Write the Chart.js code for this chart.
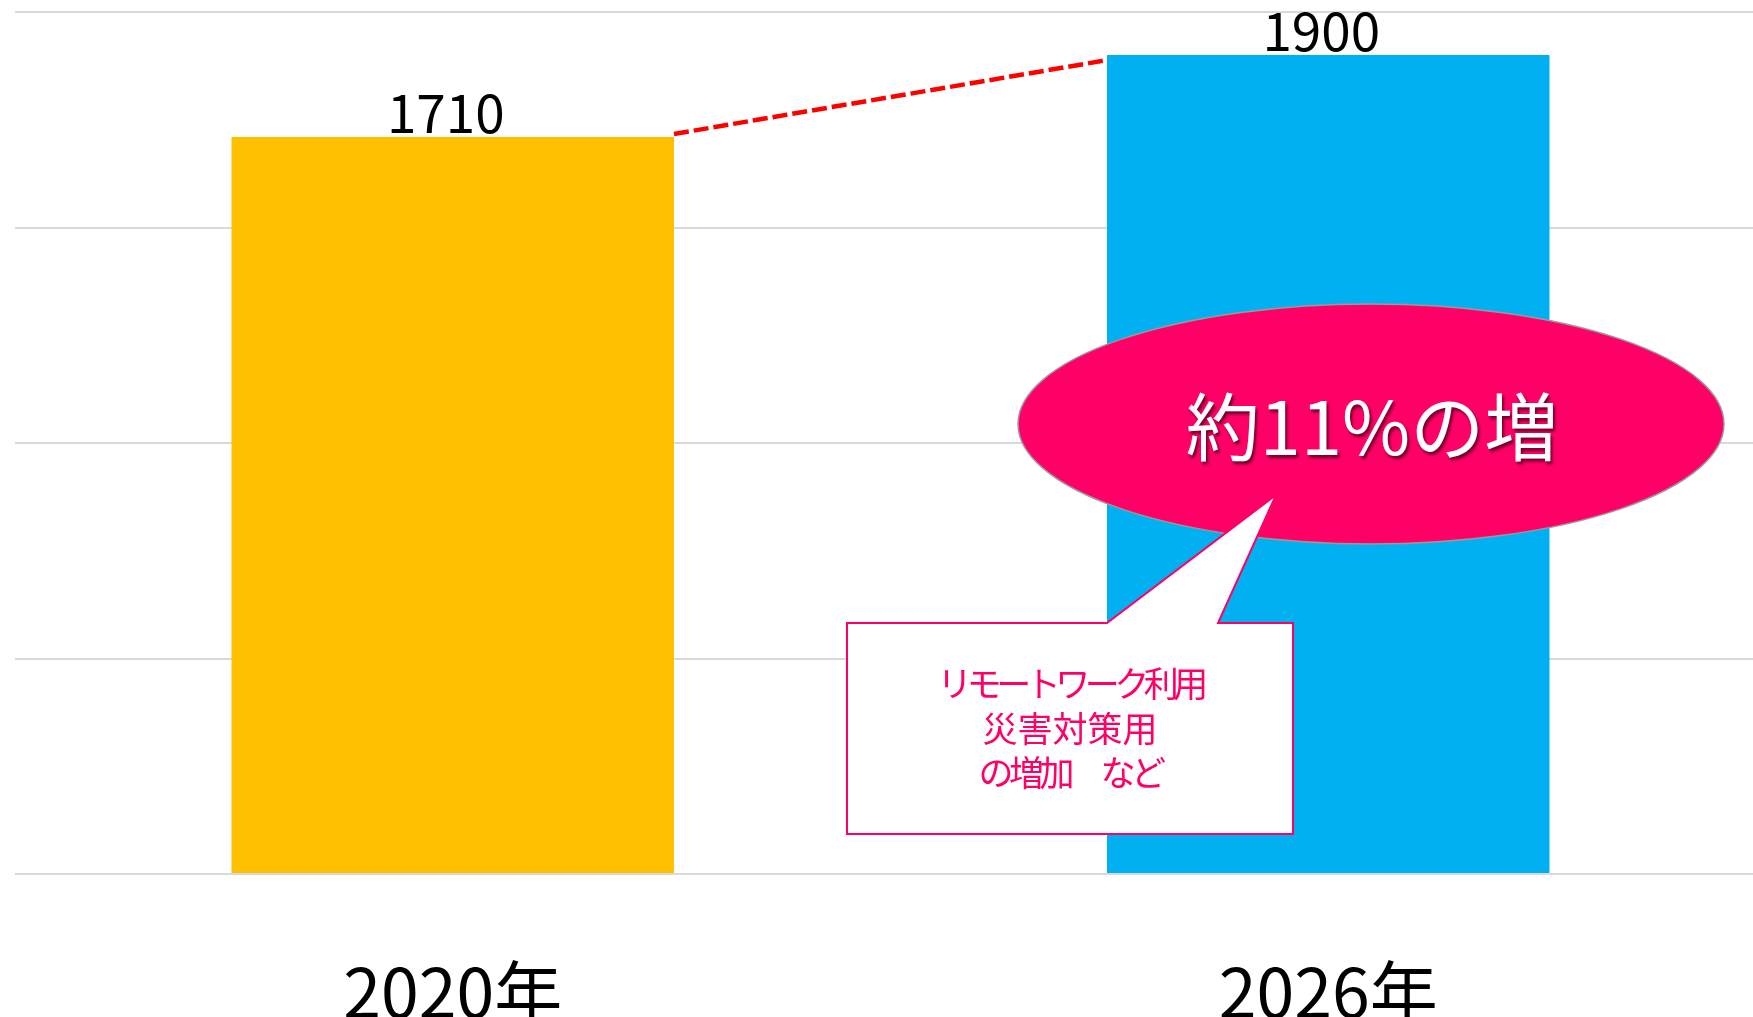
<!DOCTYPE html>
<html>
<head>
<meta charset="utf-8">
<script src="https://cdn.jsdelivr.net/npm/chart.js@4/dist/chart.umd.min.js"></script>
<style>
  html, body { margin: 0; padding: 0; overflow: hidden; background: #fff; }
  #wrap { position: absolute; left: 0; top: 0; width: 1768px; height: 1017px; }
</style>
</head>
<body>
<div id="wrap"><canvas id="chart"></canvas></div>
<script>
const categories = ['2020年', '2026年']
const values = [1710, 1900]
const barColors = ['#FFC000', '#00B0F0']
const yMax = 2000
const yStep = 500

const growthText = '約11%の増'
const reasonLines = ['リモートワーク利用', '災害対策用', 'の増加　など']

const FONT = '"Noto Sans CJK JP", "Noto Sans", sans-serif'
const PINK = '#FF0066'

// value labels + dashed connector between bar tops
const barExtras = {
  id: 'barExtras',
  afterDatasetsDraw (chart) {
    const ctx = chart.ctx
    const bars = chart.getDatasetMeta(0).data
    const a = bars[0]
    const b = bars[1]
    ctx.save()
    ctx.strokeStyle = '#FF0000'
    ctx.lineWidth = 4.5
    ctx.setLineDash([15, 5])
    ctx.beginPath()
    ctx.moveTo(a.x + a.width / 2, a.y - 3)
    ctx.lineTo(b.x - b.width / 2, b.y + 5)
    ctx.stroke()
    ctx.setLineDash([])

    ctx.fillStyle = '#000'
    ctx.font = '53px ' + FONT
    ctx.textAlign = 'center'
    ctx.textBaseline = 'alphabetic'
    bars.forEach((bar, i) => {
      ctx.fillText(String(values[i]), bar.x - 7, bar.y - 4)
    })
    ctx.restore()
  }
}

// ellipse + rectangular callout
const callouts = {
  id: 'callouts',
  afterDraw (chart) {
    const ctx = chart.ctx
    ctx.save()
    // ellipse
    ctx.beginPath()
    ctx.ellipse(1371, 424, 353, 120, 0, 0, Math.PI * 2)
    ctx.fillStyle = PINK
    ctx.fill()
    ctx.lineWidth = 1.5
    ctx.strokeStyle = '#9a9a9a'
    ctx.stroke()

    ctx.font = '74px ' + FONT
    ctx.textAlign = 'center'
    ctx.textBaseline = 'middle'
    ctx.shadowColor = 'rgba(70, 0, 25, 0.75)'
    ctx.shadowOffsetX = 2
    ctx.shadowOffsetY = 3
    ctx.shadowBlur = 3
    ctx.fillStyle = '#fff'
    ctx.fillText(growthText, 1372, 427)
    ctx.shadowColor = 'transparent'

    // rectangle callout with tail
    ctx.beginPath()
    ctx.moveTo(847, 623)
    ctx.lineTo(1107, 623)
    ctx.lineTo(1276, 495)
    ctx.lineTo(1218, 623)
    ctx.lineTo(1293, 623)
    ctx.lineTo(1293, 834)
    ctx.lineTo(847, 834)
    ctx.closePath()
    ctx.fillStyle = '#fff'
    ctx.fill()
    ctx.lineWidth = 2
    ctx.strokeStyle = PINK
    ctx.stroke()

    ctx.fillStyle = PINK
    ctx.font = '35px ' + FONT
    const spacing = ['-5.5px', '0px', '-4.5px']
    reasonLines.forEach((line, i) => {
      ctx.letterSpacing = spacing[i]
      ctx.fillText(line, 1070, 684 + i * 44.5)
    })
    ctx.restore()
  }
}

new Chart(document.getElementById('chart'), {
  type: 'bar',
  data: {
    labels: categories,
    datasets: [
      {
        data: values,
        backgroundColor: barColors,
        borderWidth: 0,
        categoryPercentage: 1,
        barPercentage: 0.5054
      }
    ]
  },
  options: {
    responsive: true,
    maintainAspectRatio: false,
    animation: false,
    layout: { padding: { left: 15, right: 2, top: 12, bottom: 0 } },
    plugins: {
      legend: { display: false },
      tooltip: { enabled: false }
    },
    scales: {
      x: {
        grid: { display: false, drawTicks: false },
        border: { display: false },
        ticks: {
          color: '#000',
          padding: 77,
          font: { family: FONT, size: 68 }
        },
        afterFit (scale) { scale.height = 143 }
      },
      y: {
        min: 0,
        max: yMax,
        grid: { color: '#d9d9d9', lineWidth: 2, drawTicks: false },
        border: { display: false },
        ticks: { display: false, stepSize: yStep },
        afterFit (scale) { scale.width = 0 }
      }
    }
  },
  plugins: [barExtras, callouts]
})
</script>
</body>
</html>
